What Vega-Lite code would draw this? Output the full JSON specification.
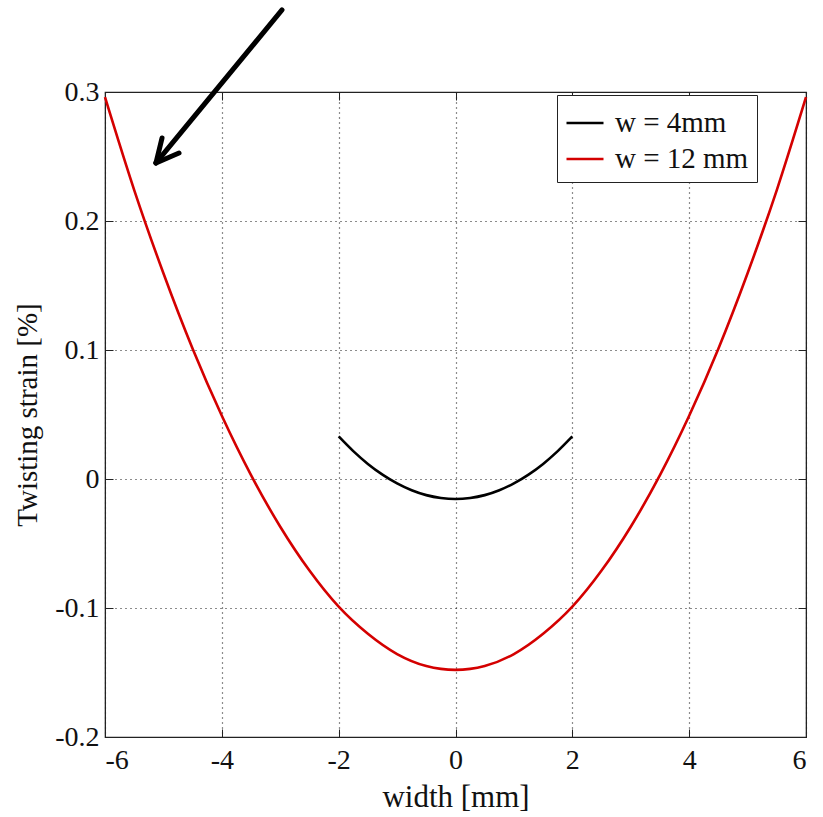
{
  "$schema": "https://vega.github.io/schema/vega-lite/v6.json",
  "width": 701,
  "height": 645,
  "autosize": {"type": "none"},
  "padding": {"left": 105, "top": 92, "right": 17, "bottom": 80},
  "background": "white",
  "config": {
    "view": {"stroke": "#222222", "strokeWidth": 1.2},
    "font": "Liberation Serif",
    "axis": {
      "labelFont": "Liberation Serif",
      "titleFont": "Liberation Serif",
      "labelFontSize": 28,
      "titleFontSize": 29,
      "titleFontWeight": "normal",
      "labelColor": "#111111",
      "titleColor": "#111111",
      "domainColor": "#222222",
      "tickColor": "#222222",
      "tickSize": -8,
      "gridColor": "#000000",
      "gridDash": [1, 4],
      "gridWidth": 1.2,
      "gridOpacity": 0.9
    }
  },
  "datasets": {
    "curves": [
      {"x": -2.0, "y": 0.033, "series": "w = 4mm"},
      {"x": -1.75, "y": 0.0216, "series": "w = 4mm"},
      {"x": -1.5, "y": 0.0117, "series": "w = 4mm"},
      {"x": -1.25, "y": 0.0034, "series": "w = 4mm"},
      {"x": -1.0, "y": -0.0034, "series": "w = 4mm"},
      {"x": -0.75, "y": -0.0087, "series": "w = 4mm"},
      {"x": -0.5, "y": -0.0125, "series": "w = 4mm"},
      {"x": -0.25, "y": -0.0147, "series": "w = 4mm"},
      {"x": 0.0, "y": -0.0155, "series": "w = 4mm"},
      {"x": 0.25, "y": -0.0147, "series": "w = 4mm"},
      {"x": 0.5, "y": -0.0125, "series": "w = 4mm"},
      {"x": 0.75, "y": -0.0087, "series": "w = 4mm"},
      {"x": 1.0, "y": -0.0034, "series": "w = 4mm"},
      {"x": 1.25, "y": 0.0034, "series": "w = 4mm"},
      {"x": 1.5, "y": 0.0117, "series": "w = 4mm"},
      {"x": 1.75, "y": 0.0216, "series": "w = 4mm"},
      {"x": 2.0, "y": 0.033, "series": "w = 4mm"},
      {"x": -6.0, "y": 0.296, "series": "w = 12 mm"},
      {"x": -5.5, "y": 0.224, "series": "w = 12 mm"},
      {"x": -5.0, "y": 0.1595, "series": "w = 12 mm"},
      {"x": -4.5, "y": 0.101, "series": "w = 12 mm"},
      {"x": -4.0, "y": 0.049, "series": "w = 12 mm"},
      {"x": -3.5, "y": 0.003, "series": "w = 12 mm"},
      {"x": -3.0, "y": -0.037, "series": "w = 12 mm"},
      {"x": -2.5, "y": -0.071, "series": "w = 12 mm"},
      {"x": -2.0, "y": -0.099, "series": "w = 12 mm"},
      {"x": -1.5, "y": -0.120, "series": "w = 12 mm"},
      {"x": -1.0, "y": -0.1357, "series": "w = 12 mm"},
      {"x": -0.5, "y": -0.145, "series": "w = 12 mm"},
      {"x": 0.0, "y": -0.148, "series": "w = 12 mm"},
      {"x": 0.5, "y": -0.145, "series": "w = 12 mm"},
      {"x": 1.0, "y": -0.1357, "series": "w = 12 mm"},
      {"x": 1.5, "y": -0.120, "series": "w = 12 mm"},
      {"x": 2.0, "y": -0.099, "series": "w = 12 mm"},
      {"x": 2.5, "y": -0.071, "series": "w = 12 mm"},
      {"x": 3.0, "y": -0.037, "series": "w = 12 mm"},
      {"x": 3.5, "y": 0.003, "series": "w = 12 mm"},
      {"x": 4.0, "y": 0.049, "series": "w = 12 mm"},
      {"x": 4.5, "y": 0.101, "series": "w = 12 mm"},
      {"x": 5.0, "y": 0.1595, "series": "w = 12 mm"},
      {"x": 5.5, "y": 0.224, "series": "w = 12 mm"},
      {"x": 6.0, "y": 0.296, "series": "w = 12 mm"}
    ],
    "arrow": [
      {"x": -2.97, "y": 0.3636, "x2": -5.127, "y2": 0.245},
      {"x": -5.024, "y": 0.2643, "x2": -5.127, "y2": 0.245},
      {"x": -4.733, "y": 0.2527, "x2": -5.127, "y2": 0.245}
    ]
  },
  "layer": [
    {
      "data": {"name": "curves"},
      "mark": {"type": "line", "strokeWidth": 2.6, "interpolate": "monotone"},
      "encoding": {
        "x": {
          "field": "x", "type": "quantitative",
          "scale": {"domain": [-6, 6], "nice": false, "zero": false},
          "axis": {"title": "width [mm]", "titleFontSize": 31, "values": [-6, -4, -2, 0, 2, 4, 6], "labelExpr": "'' + datum.value", "labelPadding": 17, "titlePadding": 8, "grid": true}
        },
        "y": {
          "field": "y", "type": "quantitative",
          "scale": {"domain": [-0.2, 0.3], "nice": false, "zero": false},
          "axis": {"title": "Twisting strain [%]", "values": [-0.2, -0.1, 0, 0.1, 0.2, 0.3], "labelExpr": "'' + datum.value", "labelPadding": 14, "titlePadding": 12, "grid": true}
        },
        "color": {
          "field": "series", "type": "nominal",
          "scale": {"domain": ["w = 4mm", "w = 12 mm"], "range": ["#000000", "#d40000"]},
          "legend": {
            "title": null,
            "orient": "none",
            "legendX": 452,
            "legendY": 3,
            "strokeColor": "#222222",
            "fillColor": "white",
            "padding": 8,
            "rowPadding": 1,
            "labelFont": "Liberation Serif",
            "labelFontSize": 29,
            "labelColor": "#111111",
            "labelOffset": 10,
            "symbolType": "stroke",
            "symbolSize": 1369,
            "symbolStrokeWidth": 2.5
          }
        }
      }
    },
    {
      "data": {"name": "arrow"},
      "mark": {"type": "rule", "strokeWidth": 5, "color": "#000000", "strokeCap": "round", "clip": false},
      "encoding": {
        "x": {
          "field": "x", "type": "quantitative",
          "scale": {"domain": [-6, 6], "nice": false, "zero": false},
          "axis": {"orient": "top", "title": null, "labels": false, "grid": false, "values": [-6, -4, -2, 0, 2, 4, 6]}
        },
        "y": {
          "field": "y", "type": "quantitative",
          "scale": {"domain": [-0.2, 0.3], "nice": false, "zero": false},
          "axis": {"orient": "right", "title": null, "labels": false, "grid": false, "values": [-0.2, -0.1, 0, 0.1, 0.2, 0.3]}
        },
        "x2": {"field": "x2"},
        "y2": {"field": "y2"}
      }
    }
  ],
  "resolve": {"axis": {"x": "independent", "y": "independent"}}
}
